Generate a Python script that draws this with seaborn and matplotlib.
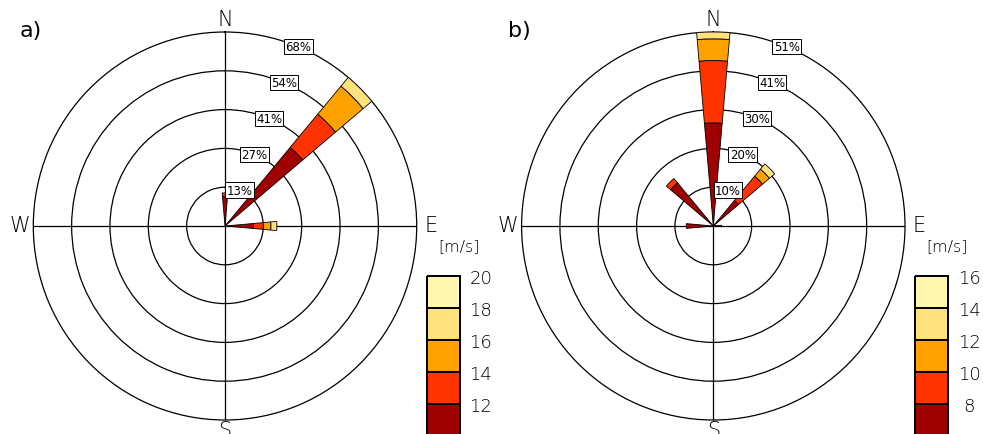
import numpy as np
import matplotlib
matplotlib.use("Agg")
import matplotlib.pyplot as plt
from matplotlib.colors import ListedColormap
import seaborn as sns

# ---------------- data ----------------
bin_colors = ["#A00000", "#FF3300", "#FFA200", "#FFE27C", "#FFF7AE"]

# panel a
dirs_a = [0, 45, 90]
a_bin1 = [10.4, 36.0, 10.1]
a_bin2 = [1.2, 15.2, 3.5]
a_bin3 = [0.0, 12.8, 2.7]
a_bin4 = [0.0, 4.0, 2.1]
a_bin5 = [0.0, 0.0, 0.0]
rmax_a = 68.0
ring_labels_a = ["13%", "27%", "41%", "54%", "68%"]
speed_labels_a = ["20", "18", "16", "14", "12"]

# panel b
dirs_b = [0, 45, 90, 270, 315]
b_bin1 = [27.1, 8.8, 0.8, 7.2, 14.8]
b_bin2 = [16.4, 8.3, 1.4, 0.0, 1.5]
b_bin3 = [5.7, 2.4, 0.0, 0.0, 0.0]
b_bin4 = [1.8, 1.8, 0.0, 0.0, 0.0]
b_bin5 = [0.0, 0.0, 0.0, 0.0, 0.0]
rmax_b = 51.0
ring_labels_b = ["10%", "20%", "30%", "41%", "51%"]
speed_labels_b = ["16", "14", "12", "10", "8"]

compass = ["N", "E", "S", "W"]
panel_tags = ["a)", "b)"]

# ---------------- style ----------------
sns.set_theme(style="white")
plt.rcParams["font.family"] = ["DejaVu Sans"]
plt.rcParams["text.color"] = "black"
plt.rcParams["xtick.color"] = "black"
plt.rcParams["ytick.color"] = "black"

W, H = 983, 435
fig = plt.figure(figsize=(W / 100, H / 100), dpi=100)


def fx(x):
    return x / W


def fy(y):
    return 1 - y / H


def draw_panel(cx, dirs, bins, rmax, ring_labels, speed_labels, tag):
    rx, ry, cy = 191.7, 194.0, 227.0
    ax = fig.add_axes([fx(cx - rx), fy(cy + ry), 2 * rx / W, 2 * ry / H],
                      projection="polar")
    ax.set_aspect("auto")
    ax.set_theta_zero_location("N")
    ax.set_theta_direction(-1)
    ax.set_ylim(0, rmax)
    ax.set_facecolor("white")
    ax.set_axisbelow(True)
    rings = [rmax * k / 5 for k in range(1, 6)]
    ax.set_rgrids(rings[:-1], labels=[""] * 4)
    ax.set_thetagrids([0, 90, 180, 270], labels=[""] * 4)
    ax.xaxis.grid(True, color="black", lw=0.9)
    ax.yaxis.grid(True, color="black", lw=0.9)
    ax.spines["polar"].set_color("black")
    ax.spines["polar"].set_linewidth(0.9)
    ax.tick_params(length=0)

    th = np.deg2rad(np.array(dirs, dtype=float))
    bottom = np.zeros(len(dirs))
    width = np.deg2rad(10)
    for vals, col in zip(bins, bin_colors):
        vals = np.array(vals, dtype=float)
        m = vals > 0
        if m.any():
            ax.bar(th[m], vals[m], width=width, bottom=bottom[m], color=col,
                   edgecolor="black", linewidth=0.6, zorder=3)
        bottom = bottom + vals

    for r, lab in zip(rings, ring_labels):
        ax.text(np.deg2rad(22.5), r, lab, ha="center", va="center",
                fontsize=8.5, zorder=6, clip_on=False,
                bbox=dict(boxstyle="square,pad=0.1", fc="white",
                          ec="black", lw=0.7))

    # compass labels
    pos = {"N": (cx, 20), "E": (cx + 206, 226), "S": (cx, 431),
           "W": (cx - 205, 226)}
    for c in compass:
        x, y = pos[c]
        fig.text(fx(x), fy(y), c, ha="center", va="center", fontsize=15,
                 fontweight="light")
    fig.text(fx(cx - 194), fy(31), tag, ha="center", va="center",
             fontsize=16)

    # speed legend as a seaborn heatmap
    lx = cx + 202
    cax = fig.add_axes([fx(lx), fy(437), 33 / W, 160 / H])
    data = np.arange(len(speed_labels))[::-1].reshape(-1, 1)
    sns.heatmap(data, cmap=ListedColormap(bin_colors), vmin=-0.5,
                vmax=len(speed_labels) - 0.5, cbar=False, linewidths=1.2,
                linecolor="black", ax=cax, xticklabels=False)
    for coll in cax.collections:
        coll.set_clip_on(False)
    cax.yaxis.tick_right()
    cax.set_yticks(np.arange(len(speed_labels)))
    cax.set_yticklabels(speed_labels, rotation=0, fontsize=13,
                        fontweight="light", color="black")
    for t in cax.get_yticklabels():
        t.set_ha("center")
    cax.tick_params(axis="y", length=0, pad=15)
    fig.text(fx(lx + 32), fy(247), "[m/s]", ha="center", va="center",
             fontsize=11.5, fontweight="light")


draw_panel(225.0, dirs_a, [a_bin1, a_bin2, a_bin3, a_bin4, a_bin5], rmax_a,
           ring_labels_a, speed_labels_a, panel_tags[0])
draw_panel(713.3, dirs_b, [b_bin1, b_bin2, b_bin3, b_bin4, b_bin5], rmax_b,
           ring_labels_b, speed_labels_b, panel_tags[1])

fig.savefig("out.png", dpi=100)
